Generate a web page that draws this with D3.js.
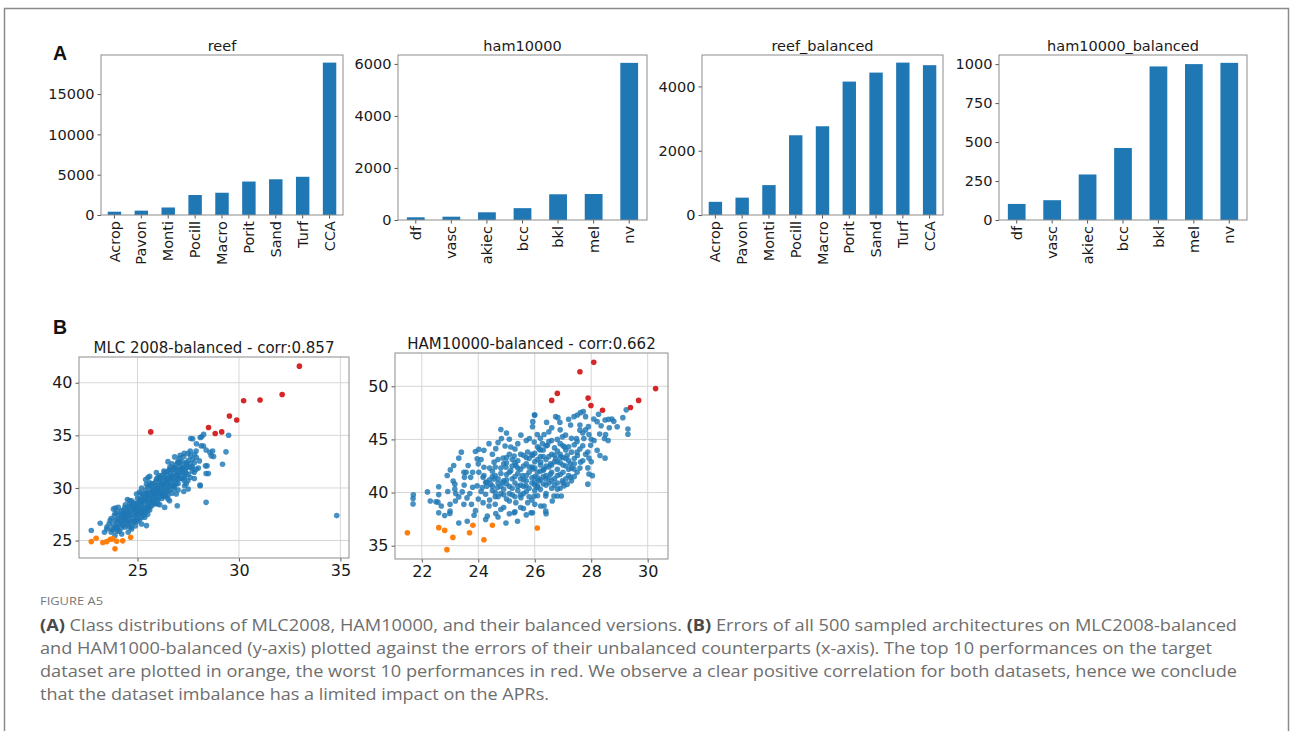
<!DOCTYPE html>
<html>
<head>
<meta charset="utf-8">
<script src="https://cdn.jsdelivr.net/npm/d3@7"></script>
<style>
body{margin:0;background:#fff}
svg{display:block}
.chart text{font-family:"DejaVu Sans",sans-serif;fill:#1a1a1a}
</style>
</head>
<body>
<div id="fig"></div>
<script>
// ---- panel A: class counts ----
let reefClasses = ["Acrop","Pavon","Monti","Pocill","Macro","Porit","Sand","Turf","CCA"];
let reefCounts = [410,540,930,2480,2760,4150,4430,4740,18900];
let reefBalCounts = [410,540,930,2480,2760,4150,4430,4740,4660];
let hamClasses = ["df","vasc","akiec","bcc","bkl","mel","nv"];
let hamCounts = [104,127,296,455,988,1000,6040];
let hamBalCounts = [103,127,292,462,985,1000,1008];

let reefTicks = [0,5000,10000,15000];
let hamTicks = [0,2000,4000,6000];
let reefBalTicks = [0,2000,4000];
let hamBalTicks = [0,250,500,750,1000];

// ---- panel B: errors, balanced (y) vs unbalanced (x) ----
let mlcTop10 = [[22.72,24.9],[22.96,25.22],[23.29,24.81],[23.48,24.9],[23.66,25.13],[23.78,25.16],[23.97,24.94],[24.27,24.97],[24.66,25.32],[23.89,24.21]];
let mlcWorst10 = [[25.65,35.33],[28.5,35.74],[28.83,35.17],[29.15,35.33],[29.53,36.84],[29.89,36.46],[30.23,38.29],[31.04,38.36],[32.13,38.89],[32.98,41.58]];
let mlcRest = [
 [22.72,25.95],[23.16,26.64],[23.37,25.79],[23.48,26.1],[23.73,26.1],[23.65,26.89],[23.86,27.37],[23.81,28.0],[24.05,28.15],[23.97,26.26],
 [24.22,26.58],[24.22,25.63],[23.89,25.47],[24.54,25.79],[24.71,26.1],[24.38,27.21],[24.54,26.74],[24.62,28.47],[24.38,28.15],[24.71,28.79],
 [24.95,29.42],[24.87,26.89],[25.11,27.52],[25.2,26.58],[25.44,26.42],[25.36,27.21],[25.52,28.15],[25.2,29.1],[25.52,29.26],[25.77,29.57],
 [26.01,29.73],[26.26,29.26],[25.77,28.63],[26.01,28.47],[26.34,28.15],[26.5,28.94],[26.58,28.79],[26.96,28.31],[26.91,29.42],[27.28,29.67],
 [27.32,30.21],[27.48,30.68],[27.32,31.0],[26.99,31.15],[26.66,31.0],[26.42,30.68],[26.17,30.36],[25.93,30.84],[25.6,30.21],[25.44,30.36],
 [25.52,31.0],[25.93,31.47],[26.09,31.15],[26.34,31.47],[26.58,31.78],[26.83,31.94],[27.15,31.78],[27.35,31.62],[27.64,31.94],[27.89,31.78],
 [27.4,32.26],[26.99,32.41],[26.83,32.95],[27.07,32.82],[27.28,32.98],[27.61,33.04],[27.72,32.73],[27.81,33.2],[28.05,32.57],[27.72,34.68],
 [28.16,34.87],[28.26,35.09],[27.89,33.52],[28.25,33.99],[28.38,33.61],[28.7,33.52],[28.75,32.98],[29.19,32.26],[28.43,32.1],[28.49,31.37],
 [28.08,30.27],[28.38,28.63],[29.36,33.43],[29.49,35.01],[28.09,34.79],[27.62,34.7],[28.14,34.0],[28.57,33.38],[28.63,33.05],[28.35,32.1],
 [28.38,31.38],[28.09,30.21],[26.83,30.12],[34.82,27.37],
 [23.8,26.5],[23.9,26.9],[24.0,26.2],[24.0,27.0],[24.1,26.6],[24.1,27.4],[24.2,26.9],[24.2,27.8],[24.3,27.2],[24.3,26.4],[23.9,27.6],[24.0,25.9],
 [24.4,27.6],[24.4,26.9],[24.5,27.3],[24.5,28.0],[24.5,26.5],[24.6,27.7],[24.6,27.0],[24.7,28.3],[24.7,27.4],[24.8,27.9],[24.8,26.7],[24.4,28.4],
 [24.6,28.8],[24.8,28.6],[24.3,27.9],[24.7,26.3],
 [24.9,27.4],[24.9,28.1],[25.0,27.8],[25.0,28.5],[25.0,27.1],[25.1,28.9],[25.1,28.2],[25.2,27.6],[25.2,28.7],[25.3,28.0],[25.3,29.3],[25.0,29.0],
 [24.9,26.9],[25.2,27.2],[25.1,29.6],[25.3,28.5],
 [25.4,28.8],[25.4,27.7],[25.5,29.1],[25.5,28.3],[25.6,29.6],[25.6,28.6],[25.6,27.9],[25.7,29.2],[25.7,30.0],[25.8,28.9],[25.8,29.5],[25.4,29.8],
 [25.5,27.5],[25.7,28.3],[25.8,30.4],[25.4,30.8],[25.6,31.1],
 [25.9,29.8],[25.9,29.1],[26.0,30.2],[26.0,28.8],[26.1,29.5],[26.1,30.6],[26.2,29.9],[26.2,29.0],[26.3,30.4],[26.3,29.6],[25.9,28.5],[26.0,31.0],
 [26.2,31.2],[26.1,28.4],[26.3,31.6],
 [26.4,30.1],[26.4,30.9],[26.5,29.7],[26.5,30.5],[26.6,31.1],[26.6,30.2],[26.7,30.8],[26.7,29.5],[26.8,31.4],[26.8,30.3],[26.4,29.2],[26.6,32.0],
 [26.5,31.6],[26.7,32.3],
 [26.9,30.9],[26.9,31.7],[27.0,30.4],[27.0,31.3],[27.1,32.0],[27.1,30.9],[27.2,31.5],[27.2,32.5],[27.3,30.7],[27.4,31.9],[27.0,29.8],[27.3,33.3],
 [27.4,32.4],
 [27.5,31.3],[27.5,32.6],[27.6,31.0],[27.7,32.0],[27.8,31.5],[27.9,32.9],[27.6,33.5],[27.8,30.9],[28.0,31.9],[27.5,29.9],[27.9,34.2],
 [23.5,26.3],[23.6,26.6],[23.7,25.8],[23.7,27.1],[23.8,26.0],[23.9,26.3],[24.0,26.7],[24.0,27.7],[24.1,25.9],[24.1,27.1],[24.2,26.2],[24.2,27.5],
 [24.3,26.8],[24.3,27.6],[24.4,26.3],[24.4,27.3],[24.5,26.9],[24.5,27.7],[24.6,26.3],[24.6,27.4],[24.6,28.2],[24.7,26.8],[24.7,27.8],[24.8,27.2],
 [24.8,28.2],[24.9,27.7],[24.9,28.5],[24.9,26.4],[25.0,26.8],[25.0,27.5],[25.0,28.2],[25.1,27.0],[25.1,27.8],[25.1,28.6],[25.2,28.0],[25.2,28.4],
 [25.2,29.5],[25.3,27.4],[25.3,28.8],[25.3,27.8],[25.4,28.1],[25.4,29.1],[25.4,29.5],[25.5,27.9],[25.5,28.7],[25.5,29.5],[25.5,30.1],[25.6,28.2],
 [25.6,29.0],[25.6,30.5],[25.7,28.7],[25.7,29.6],[25.7,30.4],[25.8,28.5],[25.8,29.2],[25.8,29.9],[25.9,29.4],[25.9,30.2],[25.9,30.6],[26.0,29.0],
 [26.0,29.5],[26.0,29.9],[26.1,29.2],[26.1,30.0],[26.1,30.9],[26.2,29.5],[26.2,30.3],[26.2,30.7],[26.3,29.2],[26.3,30.0],[26.3,31.0],[26.4,29.6],
 [26.4,30.5],[26.4,31.3],[26.5,30.1],[26.5,30.9],[26.5,29.3],[26.6,29.8],[26.6,30.6],[26.6,31.5],[26.7,30.2],[26.7,31.1],[26.7,31.7],[26.8,29.9],
 [26.8,30.7],[26.8,31.9],[26.9,30.4],[26.9,31.2],[26.9,32.2],[27.0,30.8],[27.0,31.7],[27.0,32.5],[27.1,31.4],[27.1,32.4],[27.2,30.9],[27.2,31.9],
 [27.3,31.2],[27.3,32.0],[27.4,30.4],[27.4,31.4],[27.5,32.0],[27.6,32.3],[27.7,31.6],[27.8,32.4],[27.1,33.1],[27.5,33.3],[26.5,32.5],[25.2,30.0],
 [24.5,28.9],[23.9,28.1]
];

let hamTop10 = [[21.49,36.22],[22.6,36.7],[22.81,36.44],[23.1,35.78],[22.89,34.63],[23.69,36.22],[23.81,36.92],[24.2,35.56],[24.5,36.92],[26.09,36.67]];
let hamWorst10 = [[28.09,52.25],[27.6,51.37],[26.8,49.33],[26.6,48.67],[27.89,48.89],[27.99,48.19],[28.4,47.75],[29.39,48.0],[29.68,48.67],[30.28,49.78]];
let hamRest = [
 [21.69,39.43],[21.69,38.92],[22.2,40.06],[22.6,40.54],[22.6,39.81],[22.5,39.14],[22.57,39.1],[22.69,38.73],[22.81,37.84],[22.99,38.03],
 [23.0,38.25],[23.11,41.08],[23.13,42.54],[23.01,42.13],[23.17,40.79],[23.17,40.32],[22.92,40.1],[23.19,39.21],[23.31,43.24],[23.31,39.59],
 [23.31,37.14],[23.49,41.9],[23.51,41.43],[23.57,41.9],[23.64,42.54],[23.73,41.43],[23.43,40.06],[23.49,38.89],[23.61,37.3],[23.76,38.89],
 [23.85,37.87],[23.9,43.87],[23.96,43.17],[24.02,44.06],[24.2,43.97],[24.38,44.6],[24.62,44.13],[24.8,45.94],[24.82,45.08],[24.95,44.38],
 [25.1,45.02],[25.15,44.29],[25.51,45.4],[25.27,43.43],[24.88,43.24],[24.56,42.86],[24.2,42.38],[24.02,41.9],[24.17,41.43],[23.96,40.63],
 [24.14,40.48],[24.26,40.95],[24.44,40.79],[24.56,41.27],[24.68,40.48],[24.86,40.95],[24.26,39.84],[24.17,39.05],[24.38,38.73],[24.32,37.78],
 [24.26,37.46],[24.62,38.03],[24.8,38.41],[24.98,37.14],[25.27,38.1],[25.39,37.3],[25.1,39.21],[25.33,39.05],[25.51,39.52],[25.75,39.05],
 [25.87,38.1],[25.93,42.22],[25.75,43.81],[25.81,45.08],[25.93,46.67],[25.99,47.3],[25.33,42.54],[25.57,41.59],[25.69,40.63],[25.15,42.06],
 [24.98,42.38],
 [26.0,47.3],[26.74,47.14],[26.82,47.05],[26.89,46.6],[26.42,46.6],[25.92,46.19],[26.09,45.46],[26.5,45.71],[26.33,45.46],[26.98,45.24],
 [27.09,45.4],[27.27,46.35],[27.39,47.14],[27.51,47.3],[27.62,47.52],[27.72,47.62],[27.8,47.14],[27.6,46.35],[27.6,45.87],[27.48,45.08],
 [27.74,45.08],[27.92,45.46],[28.0,45.02],[28.09,46.92],[28.21,46.67],[28.35,46.29],[28.26,47.37],[28.49,46.83],[28.61,46.89],[28.73,46.92],
 [28.64,46.1],[28.92,46.19],[29.12,47.05],[29.24,47.78],[29.3,45.97],[29.3,45.49],[28.51,45.46],[28.47,45.08],[27.98,44.44],[27.88,43.81],
 [28.21,43.97],[28.31,43.49],[28.49,43.24],[27.92,43.24],[27.88,42.32],[27.92,41.75],[28.04,41.59],[27.88,40.79],[27.39,42.22],[27.27,41.43],
 [27.15,40.79],[26.98,41.11],[27.04,40.63],[26.8,40.32],[26.68,39.68],[26.8,39.68],[26.94,39.68],[26.62,39.21],[26.39,39.68],[26.21,38.73],
 [26.33,38.73],[26.39,38.25],[25.92,38.1],[25.98,39.68],[26.09,40.63],[26.15,41.11],[26.39,41.27],[26.56,41.75],[26.33,42.22],[26.21,42.86],
 [26.56,42.7],[26.74,43.17],[26.91,43.33],[27.06,44.29],[27.15,43.49],[27.27,42.7],[27.51,43.49],[27.62,42.86],[26.15,44.13],[26.45,44.44],
 [26.27,44.6],[25.98,44.76],[25.92,43.49],
 [24.4,41.2],[24.5,40.2],[24.5,42.0],[24.6,39.6],[24.6,41.6],[24.7,40.9],[24.7,43.1],[24.8,39.9],[24.8,42.3],[24.9,41.1],[24.9,40.3],[25.0,42.8],
 [25.0,39.4],[25.0,41.7],[25.1,40.6],[25.1,43.6],[25.2,41.3],[25.2,39.8],[25.2,42.5],[25.3,40.9],[25.3,44.1],[25.4,41.8],[25.4,40.2],[25.4,43.0],
 [25.5,42.2],[25.5,40.7],[25.5,38.6],[25.6,41.2],[25.6,43.5],[25.6,39.9],[25.7,42.7],[25.7,41.6],[25.8,40.4],[25.8,43.2],[25.8,41.9],[25.9,42.4],
 [25.9,40.9],[25.9,39.3],[26.0,41.5],[26.0,43.7],[26.0,40.2],[26.0,42.9],[26.1,41.9],[26.1,44.3],[26.1,40.5],[26.2,42.6],[26.2,41.2],[26.2,43.4],
 [26.3,40.8],[26.3,42.1],[26.3,44.0],[26.4,41.6],[26.4,43.1],[26.4,39.9],[26.5,42.4],[26.5,40.9],[26.5,44.8],[26.6,41.9],[26.6,43.6],[26.6,40.4],
 [26.7,42.9],[26.7,41.3],[26.7,44.2],[26.8,42.2],[26.8,43.9],[26.8,40.9],[26.9,41.7],[26.9,42.8],[26.9,44.6],[27.0,43.3],[27.0,41.9],[27.1,42.5],
 [27.1,44.0],[27.2,43.0],[27.2,41.6],[27.3,43.8],[27.3,42.3],[27.4,44.5],[27.4,43.2],[27.5,41.9],[27.6,44.1],[27.7,43.0],[27.7,45.6],[24.3,40.6],
 [24.2,41.6],[24.4,39.3],[24.6,38.9],[24.9,38.6],[25.3,38.2],[25.7,37.9],[26.0,38.9],[24.5,43.6],[24.7,44.7],[25.0,45.6],[25.4,44.6],[25.7,44.9],
 [26.2,45.1],[26.6,46.1],[26.9,45.9],[27.2,46.9],[23.7,39.9],[23.8,41.9],[24.0,39.4],[24.1,43.1],[23.6,39.5],[23.4,43.8],[23.2,39.9],[22.6,38.1],
 [22.9,41.6],[23.0,38.9],[22.3,39.2],[21.7,39.8],
 [24.3,41.0],[24.4,42.3],[24.5,40.6],[24.5,41.5],[24.6,40.0],[24.6,42.4],[24.7,41.3],[24.7,39.6],[24.8,40.6],[24.8,41.8],[24.9,42.7],[24.9,39.8],
 [25.0,40.8],[25.0,41.2],[25.0,43.3],[25.1,41.9],[25.1,39.9],[25.2,40.4],[25.2,43.1],[25.3,41.5],[25.3,39.6],[25.3,42.8],[25.4,40.6],[25.4,42.3],
 [25.5,41.3],[25.5,43.6],[25.5,39.8],[25.6,40.6],[25.6,42.5],[25.7,40.1],[25.7,43.3],[25.7,41.1],[25.8,42.4],[25.8,39.6],[25.9,41.4],[25.9,43.6],
 [26.0,40.7],[26.0,42.3],[26.0,41.0],[26.1,43.1],[26.1,41.4],[26.1,39.7],[26.2,40.3],[26.2,42.0],[26.2,44.0],[26.3,41.5],[26.3,43.4],[26.4,40.7],
 [26.4,42.5],[26.4,44.4],[26.5,41.4],[26.5,43.4],[26.6,42.6],[26.6,41.1],[26.6,44.9],[26.7,40.7],[26.7,43.5],[26.8,41.6],[26.8,42.9],[26.8,45.0],
 [26.9,40.4],[26.9,43.6],[27.0,42.6],[27.0,44.4],[27.0,40.9],[27.1,41.3],[27.1,43.2],[27.2,42.2],[27.2,44.3],[27.3,41.1],[27.3,45.1],[27.4,42.7],
 [27.4,41.5],[27.5,43.8],[27.5,44.8],[27.6,42.3],[27.7,44.4],[27.8,43.6],[27.8,45.9],[28.0,42.9],[27.9,46.2],[28.1,44.9],[28.3,45.5],[28.6,44.9],
 [28.8,46.7],[24.1,40.1],[24.0,42.7],[23.8,40.5],[23.5,40.7],[23.9,38.3],[24.7,37.7],[25.1,38.0],[25.6,38.5],[26.4,38.0]
];

let mlcXTicks = [25,30,35], mlcYTicks = [25,30,35,40];
let hamXTicks = [22,24,26,28,30], hamYTicks = [35,40,45,50];

let captionLines = [
 [["(A)",true],[" Class distributions of MLC2008, HAM10000, and their balanced versions. ",false],["(B)",true],[" Errors of all 500 sampled architectures on MLC2008-balanced",false]],
 [["and HAM1000-balanced (y-axis) plotted against the errors of their unbalanced counterparts (x-axis). The top 10 performances on the target",false]],
 [["dataset are plotted in orange, the worst 10 performances in red. We observe a clear positive correlation for both datasets, hence we conclude",false]],
 [["that the dataset imbalance has a limited impact on the APRs.",false]]
];
let captionWidths = [1197,1172,1197,509];

const width = 1290, height = 731;
const BLUE = "#1f77b4", ORANGE = "#ff7f0e", RED = "#d62728";
const SPINE = "#8c8c8c";

let svg = d3.select("#fig").append("svg")
  .attr("class","chart")
  .attr("width", width)
  .attr("height", height);

// outer frame (open at bottom)
svg.append("path")
  .attr("d", "M4.5,731 V8.5 H1288.5 V731")
  .attr("fill","none").attr("stroke","#8a8a8a").attr("stroke-width",1.5);

function drawBars(cats, vals, ticks, title, box) {
  let g = svg.append("g");
  let x = d3.scaleBand().domain(cats)
    .range([box.x0, box.x1])
    .paddingInner(0.5).paddingOuter(0.25);
  let y = d3.scaleLinear()
    .domain([0, d3.max(vals)*1.05])
    .range([box.y1, box.y0]);

  g.selectAll("rect.bar").data(vals).enter().append("rect")
    .attr("class","bar")
    .attr("x", (d,i) => x(cats[i]))
    .attr("width", x.bandwidth())
    .attr("y", d => y(d))
    .attr("height", d => y(0) - y(d))
    .attr("fill", BLUE);

  let xa = g.append("g").attr("transform","translate(0,"+box.y1+")")
    .call(d3.axisBottom(x).tickSize(3.5).tickSizeOuter(0));
  xa.select(".domain").remove();
  xa.selectAll("line").attr("stroke","#555");
  xa.selectAll("text")
    .attr("transform","rotate(-90)")
    .attr("x", -6).attr("y", 0).attr("dy","0.35em")
    .style("text-anchor","end")
    .style("font-size","14.5px");

  let ya = g.append("g").attr("transform","translate("+box.x0+",0)")
    .call(d3.axisLeft(y).tickValues(ticks).tickFormat(d3.format("d")).tickSize(3.5).tickPadding(3));
  ya.select(".domain").remove();
  ya.selectAll("line").attr("stroke","#555");
  ya.selectAll("text").style("font-size","14.5px");

  g.append("rect")
    .attr("x", box.x0).attr("y", box.y0)
    .attr("width", box.x1-box.x0).attr("height", box.y1-box.y0)
    .attr("fill","none").attr("stroke",SPINE).attr("stroke-width",1);

  g.append("text")
    .attr("x", (box.x0+box.x1)/2).attr("y", box.y0-4)
    .attr("text-anchor","middle")
    .style("font-size","14.5px")
    .text(title);
}

function padExtent(vals) {
  let e = d3.extent(vals);
  let p = (e[1]-e[0])*0.05;
  return [e[0]-p, e[1]+p];
}

function drawScatter(rest, top10, worst10, xt, yt, title, box) {
  let g = svg.append("g");
  let all = rest.concat(top10, worst10);
  let x = d3.scaleLinear().domain(padExtent(all.map(d => d[0]))).range([box.x0, box.x1]);
  let y = d3.scaleLinear().domain(padExtent(all.map(d => d[1]))).range([box.y1, box.y0]);

  // grid
  g.selectAll("line.gx").data(xt).enter().append("line")
    .attr("x1", d => x(d)).attr("x2", d => x(d))
    .attr("y1", box.y0).attr("y2", box.y1)
    .attr("stroke","#d6d6d6").attr("stroke-width",1);
  g.selectAll("line.gy").data(yt).enter().append("line")
    .attr("y1", d => y(d)).attr("y2", d => y(d))
    .attr("x1", box.x0).attr("x2", box.x1)
    .attr("stroke","#d6d6d6").attr("stroke-width",1);

  let sets = [[rest, BLUE, 0.82], [top10, ORANGE, 1], [worst10, RED, 1]];
  sets.forEach(s => {
    g.append("g").selectAll("circle").data(s[0]).enter().append("circle")
      .attr("cx", d => x(d[0])).attr("cy", d => y(d[1]))
      .attr("r", 2.8)
      .attr("fill", s[1]).attr("fill-opacity", s[2]);
  });

  let xa = g.append("g").attr("transform","translate(0,"+box.y1+")")
    .call(d3.axisBottom(x).tickValues(xt).tickSize(3.5).tickPadding(3));
  xa.select(".domain").remove();
  xa.selectAll("line").attr("stroke","#555");
  xa.selectAll("text").style("font-size","16px");

  let ya = g.append("g").attr("transform","translate("+box.x0+",0)")
    .call(d3.axisLeft(y).tickValues(yt).tickSize(3.5).tickPadding(3));
  ya.select(".domain").remove();
  ya.selectAll("line").attr("stroke","#555");
  ya.selectAll("text").style("font-size","16px");

  g.append("rect")
    .attr("x", box.x0).attr("y", box.y0)
    .attr("width", box.x1-box.x0).attr("height", box.y1-box.y0)
    .attr("fill","none").attr("stroke",SPINE).attr("stroke-width",1);

  g.append("text")
    .attr("x", (box.x0+box.x1)/2).attr("y", box.y0-4)
    .attr("text-anchor","middle")
    .style("font-size","15px")
    .text(title);
}

drawBars(reefClasses, reefCounts, reefTicks, "reef", {x0:101, x1:343, y0:55, y1:215});
drawBars(hamClasses, hamCounts, hamTicks, "ham10000", {x0:398, x1:647, y0:55, y1:220});
drawBars(reefClasses, reefBalCounts, reefBalTicks, "reef_balanced", {x0:702, x1:943, y0:55, y1:215});
drawBars(hamClasses, hamBalCounts, hamBalTicks, "ham10000_balanced", {x0:999, x1:1247, y0:55, y1:220});

drawScatter(mlcRest, mlcTop10, mlcWorst10, mlcXTicks, mlcYTicks, "MLC 2008-balanced - corr:0.857", {x0:79, x1:349, y0:357, y1:558});
drawScatter(hamRest, hamTop10, hamWorst10, hamXTicks, hamYTicks, "HAM10000-balanced - corr:0.662", {x0:395, x1:668, y0:353, y1:559});

// panel letters
[["A",53,60],["B",53,334]].forEach(p => {
  svg.append("text").attr("x",p[1]).attr("y",p[2])
    .style("font-family","'Liberation Sans',Arial,sans-serif")
    .style("font-weight","bold").style("font-size","19.5px").style("fill","#111")
    .text(p[0]);
});

// caption
svg.append("text").attr("x",40).attr("y",605)
  .style("font-family","'Open Sans',sans-serif")
  .style("font-size","11.5px").style("fill","#777")
  .attr("textLength",63).attr("lengthAdjust","spacingAndGlyphs")
  .text("FIGURE A5");

captionLines.forEach((line, i) => {
  let t = svg.append("text")
    .attr("x", 40).attr("y", 631 + i*23)
    .attr("textLength", captionWidths[i]).attr("lengthAdjust","spacingAndGlyphs")
    .style("font-family","'Open Sans',sans-serif")
    .style("font-size","16.5px").style("fill","#6e6e6e");
  line.forEach(part => {
    t.append("tspan").text(part[0])
      .style("font-weight", part[1] ? "bold" : "normal")
      .style("fill", part[1] ? "#4a4a4a" : "#6e6e6e");
  });
});
</script>
</body>
</html>
